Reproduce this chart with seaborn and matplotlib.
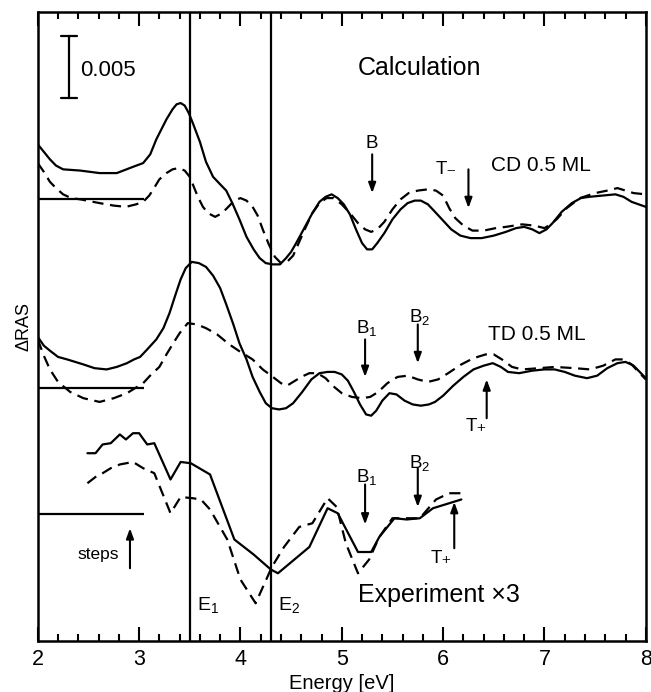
import numpy as np
import pandas as pd
import seaborn as sns
import matplotlib.pyplot as plt

# curves, units of 1e-3 Delta RAS (vertical offsets included)
cd_x = [2.0, 2.06, 2.12, 2.18, 2.25, 2.42, 2.61, 2.78, 2.94, 3.04, 3.11, 3.17, 3.22, 3.27, 3.33, 3.37, 3.41, 3.45,
        3.49, 3.53, 3.60, 3.66, 3.73, 3.80, 3.86, 3.92, 3.99, 4.06, 4.13, 4.19, 4.25, 4.32, 4.39, 4.45, 4.50, 4.55,
        4.63, 4.71, 4.78, 4.84, 4.90, 4.96, 5.02, 5.08, 5.14, 5.20, 5.25, 5.30, 5.35, 5.42, 5.50, 5.58, 5.65, 5.72,
        5.78, 5.85, 5.92, 6.0, 6.08, 6.17, 6.27, 6.38, 6.50, 6.62, 6.72, 6.80, 6.88, 6.95, 7.02, 7.08, 7.17, 7.27,
        7.36, 7.44, 7.57, 7.70, 7.78, 7.86, 7.93, 8.0]
cd_solid = [39.7, 39.1, 38.5, 38.0, 37.7, 37.6, 37.4, 37.4, 37.9, 38.2, 38.9, 40.1, 40.9, 41.7, 42.5, 42.9, 43.0, 42.8,
            42.2, 41.4, 39.9, 38.3, 37.1, 36.5, 36.0, 35.0, 33.7, 32.3, 31.3, 30.6, 30.2, 30.1, 30.1, 30.6, 31.1, 31.8,
            33.0, 34.2, 35.1, 35.5, 35.7, 35.4, 34.9, 34.1, 32.9, 31.8, 31.3, 31.3, 31.8, 32.6, 33.7, 34.5, 35.0, 35.2,
            35.2, 34.9, 34.3, 33.6, 32.9, 32.4, 32.2, 32.2, 32.4, 32.7, 33.0, 33.1, 32.9, 32.6, 32.9, 33.4, 34.3, 35.0,
            35.4, 35.5, 35.6, 35.7, 35.5, 35.1, 34.9, 34.7]

cdd_x = [2.0, 2.06, 2.12, 2.18, 2.25, 2.33, 2.42, 2.61, 2.75, 2.87, 2.97, 3.04, 3.10, 3.14, 3.20, 3.27, 3.33, 3.39,
         3.45, 3.50, 3.54, 3.58, 3.63, 3.68, 3.75, 3.82, 3.88, 3.94, 4.0, 4.06, 4.12, 4.17, 4.22, 4.28, 4.34, 4.40,
         4.46, 4.52, 4.58, 4.64, 4.71, 4.78, 4.85, 4.92, 5.0, 5.08, 5.16, 5.23, 5.29, 5.35, 5.42, 5.50, 5.58, 5.66,
         5.75, 5.85, 5.93, 6.0, 6.06, 6.12, 6.20, 6.29, 6.40, 6.52, 6.62, 6.78, 6.90, 7.0, 7.06, 7.12, 7.22, 7.35,
         7.50, 7.62, 7.72, 7.80, 7.88, 8.0]
cd_dash = [38.2, 37.5, 36.7, 36.2, 35.7, 35.4, 35.3, 35.0, 34.8, 34.7, 34.9, 35.1, 35.6, 36.1, 36.9, 37.4, 37.7, 37.8,
           37.6, 37.1, 36.3, 35.5, 34.7, 34.2, 33.9, 34.2, 34.7, 35.2, 35.4, 35.2, 34.7, 34.0, 32.9, 31.7, 30.7, 30.2,
           30.3, 30.8, 31.9, 33.0, 34.2, 35.0, 35.4, 35.4, 34.9, 34.2, 33.4, 32.9, 32.7, 32.9, 33.5, 34.5, 35.3, 35.8,
           36.0, 36.1, 36.0, 35.6, 34.6, 33.8, 33.2, 32.8, 32.8, 33.0, 33.1, 33.3, 33.2, 33.0, 33.3, 33.7, 34.6, 35.4,
           35.8, 36.0, 36.2, 36.0, 35.8, 35.7]

td_x = [2.0, 2.06, 2.12, 2.2, 2.29, 2.37, 2.45, 2.56, 2.68, 2.78, 2.88, 2.95, 3.01, 3.08, 3.17, 3.24, 3.30, 3.36,
        3.41, 3.46, 3.52, 3.59, 3.66, 3.73, 3.80, 3.86, 3.93, 3.99, 4.06, 4.12, 4.19, 4.25, 4.31, 4.38, 4.45, 4.52,
        4.61, 4.70, 4.78, 4.86, 4.93, 5.00, 5.06, 5.12, 5.18, 5.24, 5.29, 5.34, 5.40, 5.47, 5.54, 5.62, 5.70, 5.78,
        5.86, 5.92, 6.00, 6.10, 6.20, 6.30, 6.40, 6.49, 6.57, 6.64, 6.75, 6.88, 7.0, 7.1, 7.2, 7.3, 7.42, 7.52,
        7.62, 7.72, 7.80, 7.88, 7.94, 8.0]
td_solid = [24.3, 23.6, 23.2, 22.7, 22.5, 22.3, 22.1, 21.8, 21.7, 21.9, 22.2, 22.5, 22.7, 23.3, 24.1, 25.0, 26.2, 27.7,
            28.9, 29.8, 30.3, 30.2, 29.9, 29.2, 28.2, 26.9, 25.3, 23.8, 22.5, 21.1, 19.9, 19.0, 18.6, 18.5, 18.6, 19.0,
            19.9, 20.9, 21.4, 21.5, 21.5, 21.3, 20.8, 19.9, 18.9, 18.1, 18.0, 18.4, 19.2, 19.8, 19.7, 19.2, 18.9, 18.8,
            18.9, 19.1, 19.6, 20.4, 21.1, 21.7, 22.0, 22.2, 21.9, 21.5, 21.4, 21.6, 21.7, 21.7, 21.5, 21.2, 21.0, 21.2,
            21.8, 22.2, 22.3, 22.0, 21.5, 21.0]

tdd_x = [2.0, 2.06, 2.12, 2.2, 2.32, 2.45, 2.61, 2.75, 2.88, 2.96, 3.04, 3.12, 3.20, 3.27, 3.33, 3.40, 3.48, 3.57,
         3.66, 3.77, 3.89, 4.00, 4.12, 4.22, 4.32, 4.40, 4.46, 4.52, 4.60, 4.68, 4.76, 4.84, 4.91, 5.0, 5.1, 5.2,
         5.28, 5.36, 5.45, 5.55, 5.65, 5.75, 5.85, 5.95, 6.05, 6.18, 6.30, 6.42, 6.50, 6.58, 6.68, 6.78, 6.95, 7.1,
         7.3, 7.45, 7.58, 7.70, 7.78, 7.86, 7.94, 8.0]
td_dash = [24.1, 22.8, 21.7, 20.7, 19.9, 19.4, 19.1, 19.4, 19.8, 20.2, 20.6, 21.3, 21.9, 22.9, 23.7, 24.6, 25.4, 25.3,
           25.0, 24.5, 23.7, 23.1, 22.5, 21.7, 21.1, 20.6, 20.4, 20.7, 21.1, 21.4, 21.4, 21.0, 20.4, 19.8, 19.5, 19.4,
           19.5, 19.9, 20.6, 21.1, 21.2, 20.9, 20.7, 20.9, 21.4, 22.1, 22.6, 22.9, 22.9, 22.5, 21.9, 21.7, 21.8, 21.9,
           21.8, 21.7, 22.0, 22.5, 22.5, 22.1, 21.4, 20.9]

exp_x = [2.49, 2.57, 2.64, 2.72, 2.81, 2.87, 2.94, 3.0, 3.08, 3.15, 3.31, 3.41, 3.51, 3.70, 3.94, 4.13, 4.30, 4.37,
         4.68, 4.86, 4.96, 5.16, 5.29, 5.37, 5.52, 5.64, 5.77, 5.90, 6.18]
exp_solid = [15.0, 15.0, 15.7, 15.8, 16.5, 16.1, 16.6, 16.6, 15.7, 15.8, 12.9, 14.3, 14.2, 13.3, 8.1, 6.9, 5.7, 5.4,
             7.5, 10.6, 10.2, 7.1, 7.1, 8.3, 9.8, 9.7, 9.8, 10.6, 11.3]

expd_x = [2.49, 2.57, 2.64, 2.72, 2.81, 2.94, 3.04, 3.15, 3.31, 3.41, 3.53, 3.61, 3.70, 3.87, 4.0, 4.15, 4.31, 4.43,
          4.58, 4.71, 4.86, 4.95, 5.04, 5.16, 5.27, 5.37, 5.50, 5.77, 5.93, 6.06, 6.19]
exp_dash = [12.6, 13.1, 13.4, 13.8, 14.1, 14.3, 13.8, 13.4, 10.2, 11.5, 11.4, 11.3, 10.5, 8.1, 4.9, 3.0, 5.9, 7.5,
            9.1, 9.4, 11.4, 10.7, 7.8, 5.4, 6.5, 8.3, 9.8, 9.8, 11.3, 11.8, 11.8]

baselines = [35.3, 20.2, 10.1]
baseline_end = 3.05
transitions = [3.5, 4.3]
trans_labels = ["$E_1$", "$E_2$"]

sns.set_style("ticks")
plt.rcParams['font.family'] = ['Liberation Sans', 'DejaVu Sans']
plt.rcParams['mathtext.default'] = 'regular'
for k in ['text.color', 'axes.edgecolor', 'axes.labelcolor', 'xtick.color', 'ytick.color']:
    plt.rcParams[k] = 'black'

fig, ax = plt.subplots(figsize=(6.51, 6.92), dpi=100)
fig.subplots_adjust(left=0.058, right=0.992, bottom=0.074, top=0.983)

dash = (0, (5, 3))
for xs, ys, ls in [(cd_x, cd_solid, '-'), (cdd_x, cd_dash, dash), (td_x, td_solid, '-'), (tdd_x, td_dash, dash),
                   (exp_x, exp_solid, '-'), (expd_x, exp_dash, dash)]:
    df = pd.DataFrame({"E": xs, "RAS": ys})
    sns.lineplot(data=df, x="E", y="RAS", sort=False, estimator=None, color='k', lw=1.6, ax=ax,
                 linestyle=ls, solid_joinstyle='round', dash_joinstyle='round')

ax.hlines(baselines, 2, baseline_end, color='k', lw=1.6)
for xv, lab in zip(transitions, trans_labels):
    ax.axvline(xv, color='k', lw=1.6)
    ax.text(xv + 0.07, 2.9, lab, fontsize=14, va='center', ha='left')

# scale bar
ax.plot([2.31, 2.31], [43.4, 48.4], color='k', lw=1.6)
ax.plot([2.23, 2.39], [43.4, 43.4], color='k', lw=1.6)
ax.plot([2.23, 2.39], [48.4, 48.4], color='k', lw=1.6)
ax.text(2.42, 45.6, "0.005", fontsize=16, va='center', ha='left')

ax.text(5.77, 45.8, "Calculation", fontsize=18, ha='center', va='center')
ax.text(6.97, 38.0, "CD 0.5 ML", fontsize=15, ha='center', va='center')
ax.text(6.92, 24.5, "TD 0.5 ML", fontsize=15, ha='center', va='center')
ax.text(5.96, 3.7, "Experiment \u00d73", fontsize=18, ha='center', va='center')

arrows = [
    ("B", 5.30, 39.8, 5.30, 38.9, 35.8),
    ("T\u208b", 6.03, 37.7, 6.25, 37.7, 34.6),
    ("$B_1$", 5.25, 25.0, 5.23, 24.1, 21.1),
    ("$B_2$", 5.77, 25.9, 5.75, 25.3, 22.2),
    ("T\u208a", 6.33, 17.1, 6.43, 17.8, 20.9),
    ("$B_1$", 5.25, 13.1, 5.23, 12.5, 9.3),
    ("$B_2$", 5.77, 14.2, 5.75, 13.8, 10.7),
    ("T\u208a", 5.98, 6.6, 6.11, 7.4, 11.1),
]
for lab, lx, ly, ax_x, y0, y1 in arrows:
    ax.text(lx, ly, lab, fontsize=13.5, ha='center', va='center')
    ax.annotate("", xy=(ax_x, y1), xytext=(ax_x, y0),
                arrowprops=dict(arrowstyle='-|>,head_length=0.6,head_width=0.22', color='k', lw=1.5, shrinkA=0, shrinkB=0))

ax.text(2.60, 6.9, "steps", fontsize=12.5, ha='center', va='center')
ax.annotate("", xy=(2.91, 9.0), xytext=(2.91, 5.8),
            arrowprops=dict(arrowstyle='-|>,head_length=0.6,head_width=0.22', color='k', lw=1.5, shrinkA=0, shrinkB=0))

ax.set_xlim(2, 8)
ax.set_ylim(0, 50.3)
ax.set_xticks(np.arange(2, 9, 1))
ax.set_xticks(np.arange(2, 8.01, 0.2), minor=True)
ax.set_yticks([])
ax.tick_params(axis='x', which='major', direction='in', length=10, width=1.5, top=True, labelsize=15.5, pad=6)
ax.tick_params(axis='x', which='minor', direction='in', length=5, width=1.5, top=True)
for s in ax.spines.values():
    s.set_linewidth(1.8)
ax.set_xlabel("Energy [eV]", fontsize=14.5, labelpad=3)
ax.set_ylabel("\u0394RAS", fontsize=13, labelpad=4)

fig.savefig("out.png", dpi=100)
